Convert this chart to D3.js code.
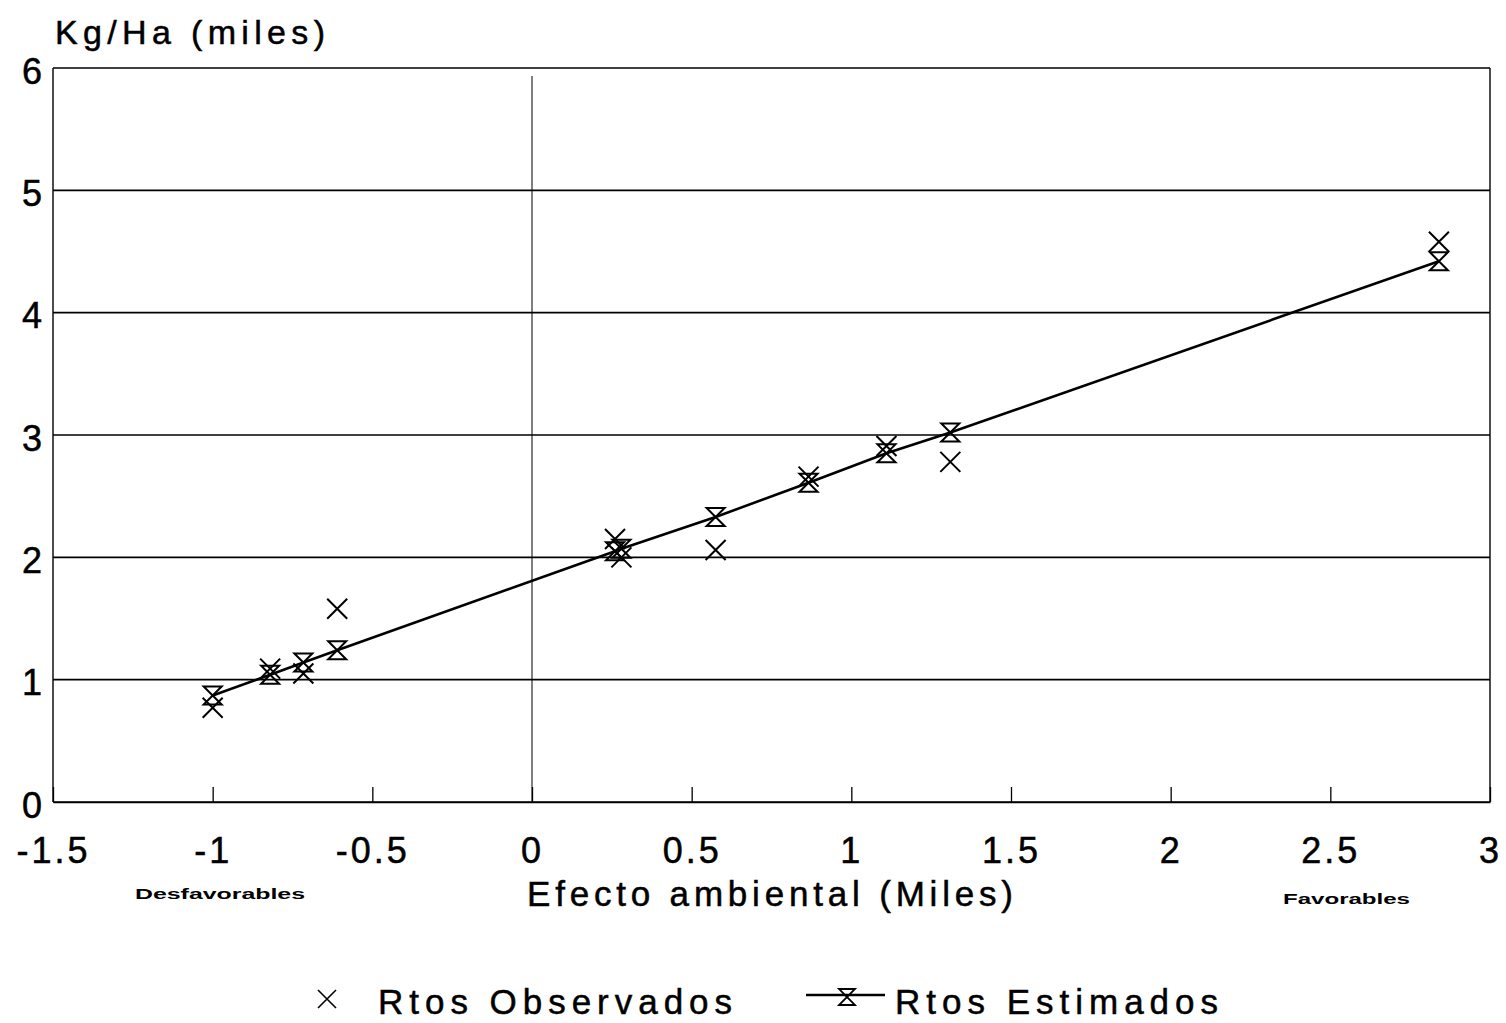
<!DOCTYPE html>
<html>
<head>
<meta charset="utf-8">
<script src="https://cdn.jsdelivr.net/npm/d3@7"></script>
<style>
  body { margin: 0; background: #fff; }
  svg { display: block; font-family: 'Liberation Sans', Arial, sans-serif; }
  .txt { fill: #000; stroke: #000; stroke-width: 0.5px; }
</style>
</head>
<body>
<svg width="1506" height="1023"></svg>
<script>
// efecto ambiental (miles) for each site
const efecto = [-1.0, -0.82, -0.716, -0.61, 0.26, 0.28, 0.575, 0.866, 1.11, 1.31, 2.84];
// observed yields (Kg/Ha, miles)
const observados = [0.77, 1.09, 1.05, 1.58, 2.15, 2.0, 2.06, 2.66, 2.91, 2.78, 4.58];
// estimated yields from the regression line
const estimados = [0.87, 1.04, 1.14, 1.24, 2.05, 2.07, 2.33, 2.61, 2.85, 3.02, 4.42];

const xTicks = [-1.5, -1, -0.5, 0, 0.5, 1, 1.5, 2, 2.5, 3];
const xTickLabels = ['-1.5', '-1', '-0.5', '0', '0.5', '1', '1.5', '2', '2.5', '3'];
const yTicks = [0, 1, 2, 3, 4, 5, 6];

const svg = d3.select('svg');

const x = d3.scaleLinear().domain([-1.5, 3]).range([53, 1490]),
  y = d3.scaleLinear().domain([0, 6]).range([802, 68]);

const pts = efecto.map((d, i) => ({ x: d, obs: observados[i], est: estimados[i] }));

// horizontal grid lines
svg.append('g')
  .selectAll('line')
  .data(yTicks)
  .enter()
  .append('line')
  .attr('x1', x(-1.5))
  .attr('x2', x(3))
  .attr('y1', (d) => y(d))
  .attr('y2', (d) => y(d))
  .attr('stroke', '#000')
  .attr('stroke-width', 1.6);

// left and right borders
svg.append('line')
  .attr('x1', x(-1.5)).attr('x2', x(-1.5))
  .attr('y1', y(6)).attr('y2', y(0))
  .attr('stroke', '#000').attr('stroke-width', 1.4);
svg.append('line')
  .attr('x1', x(3)).attr('x2', x(3))
  .attr('y1', y(6)).attr('y2', y(0))
  .attr('stroke', '#000').attr('stroke-width', 1.4);

// zero line
svg.append('line')
  .attr('x1', x(0)).attr('x2', x(0))
  .attr('y1', y(6) + 8).attr('y2', y(0))
  .attr('stroke', '#000').attr('stroke-width', 1);

// x axis
const xAxis = svg.append('g')
  .attr('transform', `translate(0, ${y(0)})`)
  .call(
    d3.axisBottom(x)
      .tickValues(xTicks)
      .tickFormat((d, i) => xTickLabels[i])
      .tickSizeInner(-15)
      .tickSizeOuter(0)
      .tickPadding(61)
  );
xAxis.select('.domain').attr('stroke-width', 1.6);
xAxis.selectAll('.tick line').attr('stroke-width', 1.3);
xAxis.selectAll('.tick text')
  .attr('class', 'txt')
  .attr('dy', 0)
  .attr('font-size', '36px')
  .attr('letter-spacing', '3px');

// y axis labels
const yAxis = svg.append('g')
  .attr('transform', `translate(${x(-1.5)}, 0)`)
  .call(
    d3.axisLeft(y)
      .tickValues(yTicks)
      .tickFormat(d3.format('d'))
      .tickSize(0)
      .tickPadding(11)
  );
yAxis.select('.domain').remove();
yAxis.selectAll('.tick text')
  .attr('class', 'txt')
  .attr('dy', '0.42em')
  .attr('font-size', '36px');

// axis titles
svg.append('text')
  .attr('class', 'txt')
  .attr('x', 55)
  .attr('y', 44)
  .attr('font-size', '34px')
  .attr('textLength', 270)
  .attr('lengthAdjust', 'spacing')
  .text('Kg/Ha (miles)');

svg.append('text')
  .attr('class', 'txt')
  .attr('x', 527)
  .attr('y', 906)
  .attr('font-size', '35px')
  .attr('textLength', 486)
  .attr('lengthAdjust', 'spacing')
  .text('Efecto ambiental (Miles)');

svg.append('text')
  .attr('x', 135)
  .attr('y', 899)
  .attr('font-size', '14px')
  .attr('font-weight', 'bold')
  .attr('textLength', 170)
  .attr('lengthAdjust', 'spacingAndGlyphs')
  .text('Desfavorables');

svg.append('text')
  .attr('x', 1283)
  .attr('y', 904)
  .attr('font-size', '14px')
  .attr('font-weight', 'bold')
  .attr('textLength', 127)
  .attr('lengthAdjust', 'spacingAndGlyphs')
  .text('Favorables');

// marker shapes
const hourglass = (s) => `M${-s},${-s}H${s}L${-s},${s}H${s}Z`;
const cross = (s) => `M${-s},${-s}L${s},${s}M${-s},${s}L${s},${-s}`;

// regression line through the estimated points
const line = d3.line()
  .x((d) => x(d.x))
  .y((d) => y(d.est));

svg.append('path')
  .datum(pts)
  .attr('d', line)
  .attr('fill', 'none')
  .attr('stroke', '#000')
  .attr('stroke-width', 2.6);

svg.append('g')
  .selectAll('path')
  .data(pts)
  .enter()
  .append('path')
  .attr('transform', (d) => `translate(${x(d.x)}, ${y(d.est)})`)
  .attr('d', hourglass(9))
  .attr('fill', 'none')
  .attr('stroke', '#000')
  .attr('stroke-width', 2);

svg.append('g')
  .selectAll('path')
  .data(pts)
  .enter()
  .append('path')
  .attr('transform', (d) => `translate(${x(d.x)}, ${y(d.obs)})`)
  .attr('d', cross(10))
  .attr('fill', 'none')
  .attr('stroke', '#000')
  .attr('stroke-width', 2);

// legend
const legend = svg.append('g');
legend.append('path')
  .attr('transform', 'translate(327, 999)')
  .attr('d', cross(9))
  .attr('stroke', '#000')
  .attr('stroke-width', 1.6);
legend.append('text')
  .attr('class', 'txt')
  .attr('x', 378)
  .attr('y', 1014)
  .attr('font-size', '35px')
  .attr('textLength', 354)
  .attr('lengthAdjust', 'spacing')
  .text('Rtos Observados');
legend.append('line')
  .attr('x1', 806).attr('x2', 885)
  .attr('y1', 995).attr('y2', 995)
  .attr('stroke', '#000')
  .attr('stroke-width', 2.4);
legend.append('path')
  .attr('transform', 'translate(847, 997)')
  .attr('d', hourglass(8))
  .attr('fill', 'none')
  .attr('stroke', '#000')
  .attr('stroke-width', 1.8);
legend.append('text')
  .attr('class', 'txt')
  .attr('x', 895)
  .attr('y', 1014)
  .attr('font-size', '35px')
  .attr('textLength', 323)
  .attr('lengthAdjust', 'spacing')
  .text('Rtos Estimados');
</script>
</body>
</html>
